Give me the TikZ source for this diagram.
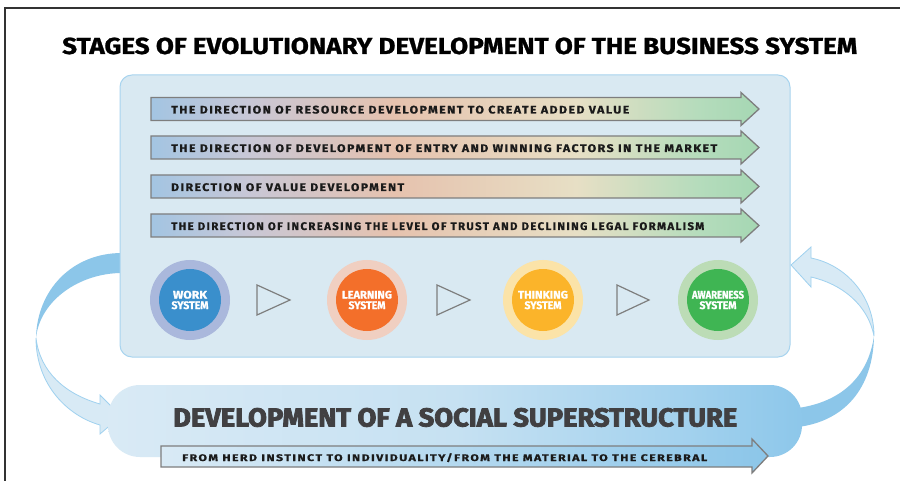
\documentclass[tikz,border=0pt]{standalone}
\usepackage{fontspec}
\setmainfont{Fira Sans}
\usepackage{graphicx}
\definecolor{g0}{HTML}{A3C5E2}
\definecolor{g1}{HTML}{C8C7D6}
\definecolor{g2}{HTML}{E6C2AE}
\definecolor{g3}{HTML}{E7DFC5}
\definecolor{g4}{HTML}{B5DCBC}
\definecolor{g5}{HTML}{A5D7B3}
\definecolor{b0}{HTML}{D9EAF5}
\definecolor{b1}{HTML}{C6E1F2}
\definecolor{b2}{HTML}{A4D2EE}
\definecolor{b3}{HTML}{8DC7EA}
\definecolor{ribdark}{HTML}{8CC6E9}
\definecolor{riblight}{HTML}{D8EAF5}
\definecolor{ribline}{HTML}{9FD1EF}
\definecolor{boxfill}{HTML}{D9E9F2}
\definecolor{boxline}{HTML}{A8D4EF}
\definecolor{arrline}{HTML}{7E7E7E}
\definecolor{headgray}{HTML}{414042}
\definecolor{txtdark}{HTML}{1A1A1A}
\definecolor{workout}{HTML}{AAB8DC}
\definecolor{workin}{HTML}{3A8FCC}
\definecolor{learnout}{HTML}{F0CFC1}
\definecolor{learnin}{HTML}{F36F2A}
\definecolor{thinkout}{HTML}{FBE3A8}
\definecolor{thinkin}{HTML}{FBB42A}
\definecolor{awareout}{HTML}{BCDCB6}
\definecolor{awarein}{HTML}{3FB553}
\pgfdeclarehorizontalshading{dirgrad}{100bp}{color(0bp)=(g0); color(25bp)=(g0); color(33bp)=(g1); color(45bp)=(g2); color(60bp)=(g3); color(70bp)=(g4); color(75bp)=(g5); color(100bp)=(g5)}
\pgfdeclarehorizontalshading{bandgrad}{100bp}{color(0bp)=(b0); color(25bp)=(b0); color(50bp)=(b1); color(66bp)=(b2); color(75bp)=(b3); color(100bp)=(b3)}
\newcommand\arrowtxt[2]{\resizebox{#1}{7.8pt}{\bfseries\addfontfeatures{LetterSpace=12,FakeBold=0.8}#2}}
\newcommand\circline[2]{\resizebox{#1}{7.8pt}{\bfseries\addfontfeatures{FakeBold=1.2}#2}}
\newcommand\dirarrow[1]{%
  \draw[dirstyle] (151,#1-11.5) -- (741,#1-11.5) -- (741,#1-16.5) -- (759,#1) -- (741,#1+16.5) -- (741,#1+11.5) -- (151,#1+11.5) -- cycle;}
\begin{document}
\begin{tikzpicture}[x=1pt,y=-1pt,
  dirstyle/.style={shading=dirgrad, draw=arrline, line width=1.3pt},
  dirtext/.style={anchor=base west, inner sep=0pt, text=txtdark},
  outerc/.style={circle, minimum size=80pt, inner sep=0pt},
  innerc/.style={circle, minimum size=62pt, inner sep=0pt, text=white, font=\fontsize{12}{10.5}\selectfont, align=center},
  tri/.style={draw=arrline, line width=1.2pt, fill=none},
  ribd/.style={fill=ribdark, draw=none},
  ribl/.style={fill=riblight, draw=ribline, line width=0.8pt}]
\useasboundingbox (0,0) rectangle (900,481);
\fill[white] (0,0) rectangle (900,481);
% frame
\draw[line width=1.5pt, draw=black!80] (5,481) -- (5,8) -- (900,8);
% title
\node[anchor=base west, inner sep=0pt, text=black] (title) at (62,54)
  {\resizebox{795pt}{16.5pt}{\addfontfeatures{FakeBold=1}\bfseries STAGES OF EVOLUTIONARY DEVELOPMENT OF THE BUSINESS SYSTEM}};
% left ribbon
\path[ribd] (122,253) .. controls (72,253) and (37,290) .. (36,338)
  .. controls (40,300) and (80,273) .. (122,273) -- cycle;
\path[ribl] (36,338) .. controls (36,385) and (68,416) .. (100,425) -- (100,434) -- (121,416) -- (100,395) -- (100,404)
  .. controls (65,394) and (40,372) .. (36,338) -- cycle;
% right ribbon
\path[ribd] (798,427) .. controls (845,421) and (873,388) .. (874,336)
  .. controls (868,378) and (840,402) .. (798,408) -- cycle;
\path[ribl] (874,336) .. controls (874,296) and (846,265) .. (811,258) -- (811,247) -- (791,265) -- (811,287) -- (811,277)
  .. controls (842,284) and (868,305) .. (874,336) -- cycle;
% main box
\draw[fill=boxfill, draw=boxline, line width=1pt, rounded corners=12pt] (120,75) rectangle (790,357);
% direction arrows
\dirarrow{109}
\dirarrow{147.5}
\dirarrow{186.5}
\dirarrow{225.5}
\node[dirtext] (d1) at (171,113.5) {\arrowtxt{458pt}{THE DIRECTION OF RESOURCE DEVELOPMENT TO CREATE ADDED VALUE}};
\node[dirtext] (d2) at (171,152) {\arrowtxt{546pt}{THE DIRECTION OF DEVELOPMENT OF ENTRY AND WINNING FACTORS IN THE MARKET}};
\node[dirtext] (d3) at (171,191) {\arrowtxt{233pt}{DIRECTION OF VALUE DEVELOPMENT}};
\node[dirtext] (d4) at (171,230) {\arrowtxt{533pt}{THE DIRECTION OF INCREASING THE LEVEL OF TRUST AND DECLINING LEGAL FORMALISM}};
% circles
\node[outerc, fill=workout] (wo) at (190,300) {};
\node[innerc, fill=workin] (wi) at (190,300) {\circline{34pt}{WORK}\\\circline{37pt}{SYSTEM}};
\node[outerc, fill=learnout] (lo) at (367,300) {};
\node[innerc, fill=learnin] (li) at (367,300) {\circline{50pt}{LEARNING}\\\circline{37pt}{SYSTEM}};
\node[outerc, fill=thinkout] (to) at (543,300) {};
\node[innerc, fill=thinkin] (ti) at (543,300) {\circline{50pt}{THINKING}\\\circline{37pt}{SYSTEM}};
\node[outerc, fill=awareout] (ao) at (718,300) {};
\node[innerc, fill=awarein] (ai) at (718,300) {\circline{52pt}{AWARENESS}\\\circline{37pt}{SYSTEM}};
% triangles
\draw[tri] (257,285) -- (257,315) -- (290,300) -- cycle;
\draw[tri] (437,285) -- (437,315) -- (470,300) -- cycle;
\draw[tri] (617,285) -- (617,315) -- (649,300) -- cycle;
% bottom band
\path[shading=bandgrad, rounded corners=32pt] (108,385) rectangle (802,457);
\node[anchor=base west, inner sep=0pt, text=headgray] (heading) at (173,426.5)
  {\resizebox{564pt}{18.5pt}{\addfontfeatures{FakeBold=3}\bfseries DEVELOPMENT OF A SOCIAL SUPERSTRUCTURE}};
% bottom arrow
\draw[left color=b0, right color=ribdark, draw=arrline, line width=1.3pt]
  (161,446) -- (752,446) -- (752,439) -- (768,456) -- (752,473) -- (752,467) -- (161,467) -- cycle;
\node[dirtext] (bt) at (182,461) {\arrowtxt{525pt}{FROM HERD INSTINCT TO INDIVIDUALITY/FROM THE MATERIAL TO THE CEREBRAL}};
\end{tikzpicture}
\end{document}
